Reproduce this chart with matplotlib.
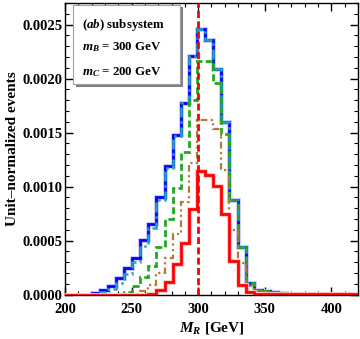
import numpy as np
import matplotlib.pyplot as plt
from matplotlib.ticker import MultipleLocator
from matplotlib.patches import Rectangle

plt.rcParams['font.family'] = 'Liberation Serif'
plt.rcParams['font.weight'] = 'bold'
plt.rcParams['axes.labelweight'] = 'bold'
plt.rcParams['mathtext.fontset'] = 'custom'
plt.rcParams['mathtext.rm'] = 'Liberation Serif:bold'
plt.rcParams['mathtext.it'] = 'Liberation Serif:bold:italic'
plt.rcParams['mathtext.bf'] = 'Liberation Serif:bold'

# bin edges of M_R [GeV]
bin_width = 6.1
edges = 195.4 + bin_width*np.arange(38)

# unit-normalized histograms (37 bins)
h_blue = [0, 0, 0, 0,
          0.000017, 0.00004, 0.00008, 0.000156, 0.00025, 0.000335, 0.000505, 0.00065,
          0.000905, 0.00119, 0.00148, 0.00177, 0.00221, 0.00246, 0.00236, 0.00209,
          0.0016, 0.00088, 0.00044, 0.00011, 0.00004, 0.00003, 0.00002, 0.000015,
          0.00001, 0.000008, 0.000006, 0.000005, 0.000004, 0.000004, 0.000003, 0.000003, 0.000002]
h_cyan = [0, 0, 0, 0,
          0.00001, 0.00002, 0.00005, 0.00011, 0.00019, 0.0003, 0.00045, 0.00062,
          0.00088, 0.00117, 0.00147, 0.00177, 0.00221, 0.00246, 0.00236, 0.00209,
          0.0016, 0.00088, 0.00044, 0.00011, 0.00004, 0.00003, 0.00002, 0.000015,
          0.00001, 0.000008, 0.000006, 0.000005, 0.000004, 0.000004, 0.000003, 0.000003, 0.000002]
h_green = [0, 0, 0, 0,
           0, 0, 0, 0.000005, 0.000026, 0.000079, 0.000165, 0.000268,
           0.00044, 0.0007, 0.00099, 0.00132, 0.0018, 0.00216, 0.00216, 0.00196,
           0.00149, 0.00088, 0.00044, 0.00011, 0.00004, 0.00003, 0.00002, 0.000015,
           0.00001, 0.000008, 0.000006, 0.000005, 0.000004, 0.000004, 0.000003, 0.000003, 0.000002]
h_brown = [0, 0, 0, 0,
           0, 0, 0, 0, 0, 0.00001, 0.00003, 0.000088,
           0.000196, 0.000335, 0.00056, 0.00086, 0.00122, 0.00162, 0.00162, 0.00153,
           0.00115, 0.0006, 0.00029, 0.00008, 0.00003, 0.00002, 0.000015, 0.00001,
           0.000008, 0.000006, 0.000005, 0.000004, 0.000003, 0.000003, 0.000002, 0.000002, 0.000002]
h_red = [0, 0, 0, 0,
         0, 0, 0, 0, 0, 0, 0, 0.00001,
         0.00004, 0.00012, 0.00028, 0.00048, 0.00079, 0.00114, 0.00111, 0.00101,
         0.00075, 0.00031, 0.00009, 0.000026, 0.00001, 0.000006, 0.000004, 0.000003,
         0.000002, 0.000002, 0.000002, 0.000001, 0.000001, 0.000001, 0.000001, 0.000001, 0.000001]

m_B = 300

fig = plt.figure(figsize=(3.6, 3.39), dpi=100)
ax = fig.add_axes([0.181, 0.131, 0.813, 0.860])

ax.stairs(h_blue, edges, color='#c4c4ff', lw=3.4, zorder=2)
ax.stairs(h_blue, edges, color='#0000ff', lw=2.0, zorder=3)
ax.stairs(h_cyan, edges, color='#20a8b8', lw=1.8, ls=(0, (4, 1.5, 1, 1.5)), zorder=4)
ax.stairs(h_green, edges, color='#22a822', lw=2.0, ls=(0, (2.5, 1.2)), zorder=5)
ax.stairs(h_brown, edges, color='#b87a30', lw=1.6, ls=(0, (3, 1.5, 1, 1.5, 1, 1.5)), zorder=6)
ax.stairs(h_red, edges, color='#ffc4c4', lw=3.4, zorder=7)
ax.stairs(h_red, edges, color='#ff0000', lw=2.0, zorder=8)
ax.axvline(m_B, color='#ff0000', lw=2.0, ls=(0, (2.5, 1.2)), zorder=9)

ax.set_xlim(200, 420)
ax.set_ylim(0, 0.0027)
ax.xaxis.set_major_locator(MultipleLocator(50))
ax.xaxis.set_minor_locator(MultipleLocator(10))
ax.yaxis.set_major_locator(MultipleLocator(0.0005))
ax.yaxis.set_minor_locator(MultipleLocator(0.0001))
ax.yaxis.set_major_formatter(plt.FuncFormatter(lambda v, p: f'{v:.4f}'))
ax.tick_params('both', which='major', length=6, width=1, direction='in', top=True, right=True,
               labelsize=10.5)
ax.tick_params('x', which='major', pad=6)
ax.tick_params('y', which='major', pad=2)
ax.tick_params('both', which='minor', length=3, width=0.8, direction='in', top=True, right=True)
for s in ax.spines.values():
    s.set_linewidth(1.0)

ax.set_xlabel(r'$M_R$ [GeV]', fontsize=11, labelpad=3)
ax.set_ylabel('Unit\u2013normalized events', fontsize=11, labelpad=2)

# legend box with drop shadow
ax.add_patch(Rectangle((0.038, 0.713), 0.363, 0.272, transform=ax.transAxes,
                       facecolor='#808080', edgecolor='none', zorder=10))
ax.add_patch(Rectangle((0.028, 0.723), 0.363, 0.272, transform=ax.transAxes,
                       facecolor='white', edgecolor='#a0a0a0', lw=0.8, zorder=11))
ax.text(0.057, 0.926, r'($ab$) subsystem', transform=ax.transAxes, fontsize=9.3,
        va='center', zorder=12)
ax.text(0.057, 0.848, r'$m_B$ = 300 GeV', transform=ax.transAxes, fontsize=9.3,
        va='center', zorder=12)
ax.text(0.057, 0.762, r'$m_C$ = 200 GeV', transform=ax.transAxes, fontsize=9.3,
        va='center', zorder=12)

plt.savefig('out.png', dpi=100)
